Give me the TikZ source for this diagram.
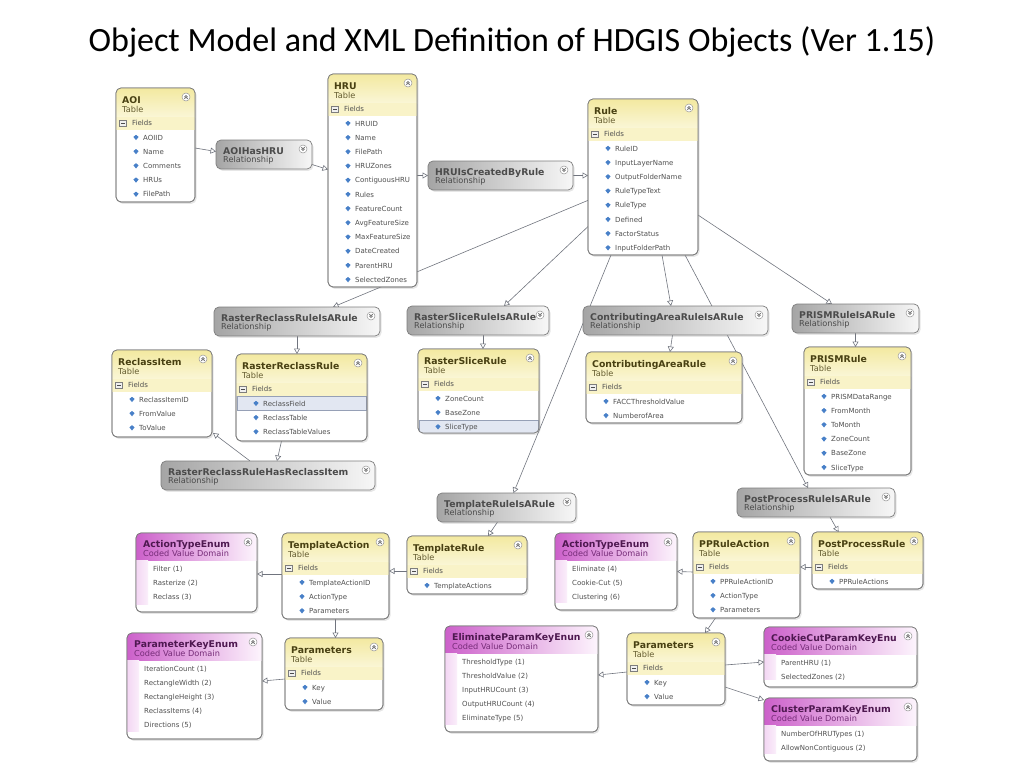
\documentclass[tikz,border=0pt]{standalone}
\usepackage{fontspec}
\setmainfont{DejaVu Sans}
\newfontfamily\slidefont{Carlito}
\usetikzlibrary{%
  arrows.meta,%
  shadows,%
  backgrounds
}

\definecolor{boxline}{RGB}{125,125,125}
\definecolor{tblhead}{RGB}{243,233,160}
\definecolor{tblheadlight}{RGB}{250,246,214}
\definecolor{tblband}{RGB}{249,243,200}
\definecolor{tbltitle}{RGB}{72,64,18}
\definecolor{tblsub}{RGB}{100,92,48}
\definecolor{reldark}{RGB}{165,165,165}
\definecolor{rellight}{RGB}{247,247,247}
\definecolor{reltext}{RGB}{75,75,75}
\definecolor{domhead}{RGB}{204,96,202}
\definecolor{domlight}{RGB}{253,245,253}
\definecolor{domtitle}{RGB}{78,24,80}
\definecolor{domsub}{RGB}{118,44,120}
\definecolor{domstrip}{RGB}{243,214,243}
\definecolor{fieldtext}{RGB}{80,80,80}
\definecolor{gemblue}{RGB}{72,128,200}
\definecolor{connline}{RGB}{112,116,126}
\definecolor{rowsel}{RGB}{226,231,242}
\definecolor{rowselline}{RGB}{150,160,182}

\tikzset{
  boxbase/.style={draw=boxline, line width=0.7pt, fill=white, rounded corners=5pt,
    anchor=north west, inner sep=0pt, outer sep=0pt,
    drop shadow={shadow xshift=1.5pt, shadow yshift=-1.8pt, opacity=0.2}},
  boxname/.style={anchor=base west, inner sep=0pt, font=\fontsize{9.3}{11}\selectfont\bfseries},
  boxsub/.style={anchor=base west, inner sep=0pt, font=\fontsize{8.2}{9}\selectfont},
  fieldlabel/.style={anchor=base west, inner sep=0pt, text=fieldtext, font=\fontsize{7}{8}\selectfont},
  conn/.style={draw=connline, line width=0.6pt, -{Triangle[open, length=5.5pt, width=6pt]}}
}

% collapse button, #2 = 1 up, -1 down
\newcommand{\foldicon}[2]{%
  \coordinate (#1-fold) at ([shift={(-9pt,-9pt)}]#1.north east);
  \begin{scope}[shift={(#1-fold)}, yscale=#2]
    \draw[boxline!80, fill=white, line width=0.5pt] (0pt,0pt) circle (4pt);
    \draw[boxline!60!black, line width=0.5pt] (-1.6pt,-0.1pt) -- (0pt,1.5pt) -- (1.6pt,-0.1pt)
      (-1.6pt,-1.9pt) -- (0pt,-0.3pt) -- (1.6pt,-1.9pt);
  \end{scope}}

% [selected row] name, x, y, width, height, title, fields
\newcommand{\ertable}[8][0]{%
  \node[boxbase, minimum width=#5pt, minimum height=#6pt] (#2) at (#3,#4) {};
  \begin{scope}
    \clip[rounded corners=5pt] (#2.north west) rectangle (#2.south east);
    \fill[top color=tblhead, bottom color=tblheadlight] (#2.north west) rectangle ([yshift=-29pt]#2.north east);
    \fill[tblband] ([yshift=-29pt]#2.north west) rectangle ([yshift=-42pt]#2.north east);
    \ifnum#1>0
      \pgfmathsetmacro\selTop{-42.5-14.2*(#1-1)}
      \filldraw[fill=rowsel, draw=rowselline, line width=0.6pt]
        ([shift={(1pt,\selTop pt)}]#2.north west) rectangle ([shift={(-1pt,\selTop pt-14.2pt)}]#2.north east);
    \fi
  \end{scope}
  \draw[boxline, line width=0.7pt, rounded corners=5pt] (#2.north west) rectangle (#2.south east);
  \node[boxname, text=tbltitle] at ([shift={(6pt,-15pt)}]#2.north west) {#7};
  \node[boxsub, text=tblsub] at ([shift={(6pt,-24pt)}]#2.north west) {Table};
  \foldicon{#2}{1}
  \draw[boxline, fill=gray!12, line width=0.4pt] ([shift={(3.5pt,-32pt)}]#2.north west) rectangle ([shift={(10pt,-38.5pt)}]#2.north west);
  \draw[boxline!60!black, line width=0.6pt] ([shift={(5pt,-35.2pt)}]#2.north west) -- ([shift={(8.5pt,-35.2pt)}]#2.north west);
  \node[fieldlabel] at ([shift={(16pt,-37.8pt)}]#2.north west) {Fields};
  \foreach \f [count=\i] in {#8} {
    \pgfmathsetmacro\rowy{-49.5-14.2*(\i-1)}
    \fill[gemblue] ([shift={(20pt,\rowy pt)}]#2.north west) +(0pt,2.7pt) -- +(2.6pt,0.6pt) -- +(0pt,-2.6pt) -- +(-2.6pt,0.6pt) -- cycle;
    \node[fieldlabel] at ([shift={(27pt,\rowy pt-2.5pt)}]#2.north west) {\f};
  }}

% name, x, y, width, height, title, values
\newcommand{\erdomain}[7]{%
  \node[boxbase, minimum width=#4pt, minimum height=#5pt] (#1) at (#2,#3) {};
  \begin{scope}
    \clip[rounded corners=5pt] (#1.north west) rectangle (#1.south east);
    \fill[left color=domhead, right color=domlight] (#1.north west) rectangle ([yshift=-27pt]#1.north east);
    \fill[left color=domstrip, right color=domstrip!40] ([yshift=-27pt]#1.north west) rectangle ([shift={(12pt,8pt)}]#1.south west);
  \end{scope}
  \draw[boxline, line width=0.7pt, rounded corners=5pt] (#1.north west) rectangle (#1.south east);
  \node[boxname, text=domtitle] at ([shift={(7pt,-14pt)}]#1.north west) {#6};
  \node[boxsub, text=domsub] at ([shift={(7pt,-23pt)}]#1.north west) {Coded Value Domain};
  \foldicon{#1}{1}
  \foreach \v [count=\i] in {#7} {
    \pgfmathsetmacro\rowy{-36-14*(\i-1)}
    \node[fieldlabel] at ([shift={(17pt,\rowy pt-2.5pt)}]#1.north west) {\v};
  }}

% name, x, y, width, title
\newcommand{\errel}[5]{%
  \node[boxbase, left color=reldark, right color=rellight, minimum width=#4pt, minimum height=29pt] (#1) at (#2,#3) {};
  \node[boxname, text=reltext] at ([shift={(7pt,-14pt)}]#1.north west) {#5};
  \node[boxsub, text=reltext] at ([shift={(7pt,-22.5pt)}]#1.north west) {Relationship};
  \foldicon{#1}{-1}}

\begin{document}
\begin{tikzpicture}[x=1pt,y=-1pt]
  \useasboundingbox (0,0) rectangle (1024,768);
  \node[font=\slidefont\fontsize{34}{40}\selectfont, inner sep=0pt] (heading) at (512,42)
    {Object Model and XML Definition of HDGIS Objects (Ver 1.15)};

  \ertable{aoi}{116}{88}{79}{114}{AOI}{AOIID,Name,Comments,HRUs,FilePath}
  \ertable{hru}{328}{74}{89}{213}{HRU}{HRUID,Name,FilePath,HRUZones,ContiguousHRU,Rules,FeatureCount,AvgFeatureSize,MaxFeatureSize,DateCreated,ParentHRU,SelectedZones}
  \ertable{rule}{588}{99}{110}{156}{Rule}{RuleID,InputLayerName,OutputFolderName,RuleTypeText,RuleType,Defined,FactorStatus,InputFolderPath}
  \ertable{reclassitem}{112}{350}{100}{87}{ReclassItem}{ReclassItemID,FromValue,ToValue}
  \ertable[1]{reclassrule}{236}{354}{131}{87}{RasterReclassRule}{ReclassField,ReclassTable,ReclassTableValues}
  \ertable[3]{slicerule}{418}{349}{121}{84}{RasterSliceRule}{ZoneCount,BaseZone,SliceType}
  \ertable{arearule}{586}{352}{156}{71}{ContributingAreaRule}{FACCThresholdValue,NumberofArea}
  \ertable{prismrule}{804}{347}{107}{128}{PRISMRule}{PRISMDataRange,FromMonth,ToMonth,ZoneCount,BaseZone,SliceType}
  \ertable{tplaction}{282}{533}{107}{86}{TemplateAction}{TemplateActionID,ActionType,Parameters}
  \ertable{tplrule}{407}{536}{120}{58}{TemplateRule}{TemplateActions}
  \ertable{ppaction}{693}{532}{107}{86}{PPRuleAction}{PPRuleActionID,ActionType,Parameters}
  \ertable{pprule}{812}{532}{111}{57}{PostProcessRule}{PPRuleActions}
  \ertable{tplparams}{285}{638}{98}{72}{Parameters}{Key,Value}
  \ertable{ppparams}{627}{633}{98}{72}{Parameters}{Key,Value}

  \erdomain{tplactenum}{136}{533}{121}{79}{ActionTypeEnum}{Filter (1),Rasterize (2),Reclass (3)}
  \erdomain{ppactenum}{555}{533}{122}{77}{ActionTypeEnum}{Eliminate (4),Cookie-Cut (5),Clustering (6)}
  \erdomain{paramkeyenum}{127}{633}{135}{106}{ParameterKeyEnum}{IterationCount (1),RectangleWidth (2),RectangleHeight (3),ReclassItems (4),Directions (5)}
  \erdomain{elimenum}{445}{626}{153}{106}{EliminateParamKeyEnun}{ThresholdType (1),ThresholdValue (2),InputHRUCount (3),OutputHRUCount (4),EliminateType (5)}
  \erdomain{cookieenum}{764}{627}{153}{60}{CookieCutParamKeyEnu}{ParentHRU (1),SelectedZones (2)}
  \erdomain{clusterenum}{764}{698}{153}{63}{ClusterParamKeyEnum}{NumberOfHRUTypes (1),AllowNonContiguous (2)}

  \errel{aoihru}{216}{140}{96}{AOIHasHRU}
  \errel{hrurule}{428}{161}{145}{HRUIsCreatedByRule}
  \errel{reclassisa}{214}{307}{166}{RasterReclassRuleIsARule}
  \errel{sliceisa}{407}{306}{142}{RasterSliceRuleIsARule}
  \errel{areaisa}{583}{306}{185}{ContributingAreaRuleIsARule}
  \errel{prismisa}{792}{304}{127}{PRISMRuleIsARule}
  \errel{reclasshas}{161}{461}{214}{RasterReclassRuleHasReclassItem}
  \errel{tplisa}{437}{493}{139}{TemplateRuleIsARule}
  \errel{ppisa}{737}{488}{158}{PostProcessRuleIsARule}

  \begin{pgfonlayer}{background}
    \draw[conn] ([yshift=-3pt]aoi.east) -- ([yshift=3pt]aoihru.west);
    \draw[conn] ([yshift=-10pt]aoihru.east) -- ([yshift=11pt]hru.west);
    \draw[conn] (hru.east |- hrurule.west) -- (hrurule.west);
    \draw[conn] (hrurule.east) -- (rule.west |- hrurule.east);
    % rule to the IsA relationships
    \draw[conn] (rule.203) -- ([xshift=36pt]reclassisa.north);
    \draw[conn] (rule.222) -- ([xshift=26pt]sliceisa.north);
    \draw[conn] ([xshift=-32pt]rule.south) -- ([xshift=7pt]tplisa.north);
    \draw[conn] ([xshift=19pt]rule.south) -- ([xshift=-4.5pt]areaisa.north);
    \draw[conn] ([xshift=42pt]rule.south) -- ([xshift=-8pt]ppisa.north);
    \draw[conn] ([yshift=-38pt]rule.east) -- ([xshift=-23.5pt]prismisa.north);
    % relationships to tables
    \draw[conn] (reclassisa.south) -- (reclassisa.south |- reclassrule.north);
    \draw[conn] ([xshift=5pt]sliceisa.south) -- ([xshift=5pt]sliceisa.south |- slicerule.north);
    \draw[conn] ([xshift=-3pt]areaisa.south) -- ([xshift=6pt]arearule.north);
    \draw[conn] (prismisa.south) -- (prismisa.south |- prismrule.north);
    \draw[conn] ([xshift=-20pt]reclassrule.south) -- ([xshift=9pt]reclasshas.north);
    \draw[conn] ([xshift=-18pt]reclasshas.north) -- ([shift={(1pt,4pt)}]reclassitem.south east);
    \draw[conn] ([xshift=-9pt]tplisa.south) -- ([xshift=21pt]tplrule.north);
    \draw[conn] ([xshift=14pt]ppisa.south) -- ([xshift=-29pt]pprule.north);
    % actions and parameters
    \draw[conn] ([yshift=-6pt]tplrule.west) -- ([yshift=5pt]tplaction.east);
    \draw[conn] ([yshift=2pt]tplaction.west) -- ([yshift=-1.5pt]tplactenum.east);
    \draw[conn] (tplaction.south) -- (tplaction.south |- tplparams.north);
    \draw[conn] ([yshift=-5pt]tplparams.west) -- ([yshift=5pt]paramkeyenum.east);
    \draw[conn] ([yshift=-6.5pt]pprule.west) -- ([yshift=8pt]ppaction.east);
    \draw[conn] ([yshift=3pt]ppaction.west) -- (ppactenum.east);
    \draw[conn] ([xshift=-31pt]ppaction.south) -- ([xshift=29pt]ppparams.north);
    \draw[conn] ([yshift=-3pt]ppparams.west) -- ([yshift=4pt]elimenum.east);
    \draw[conn] ([yshift=4pt]ppparams.east) -- ([yshift=-5pt]cookieenum.west);
    \draw[conn] ([yshift=-18pt]ppparams.east) -- ([yshift=29.5pt]clusterenum.west);
  \end{pgfonlayer}
\end{tikzpicture}
\end{document}
